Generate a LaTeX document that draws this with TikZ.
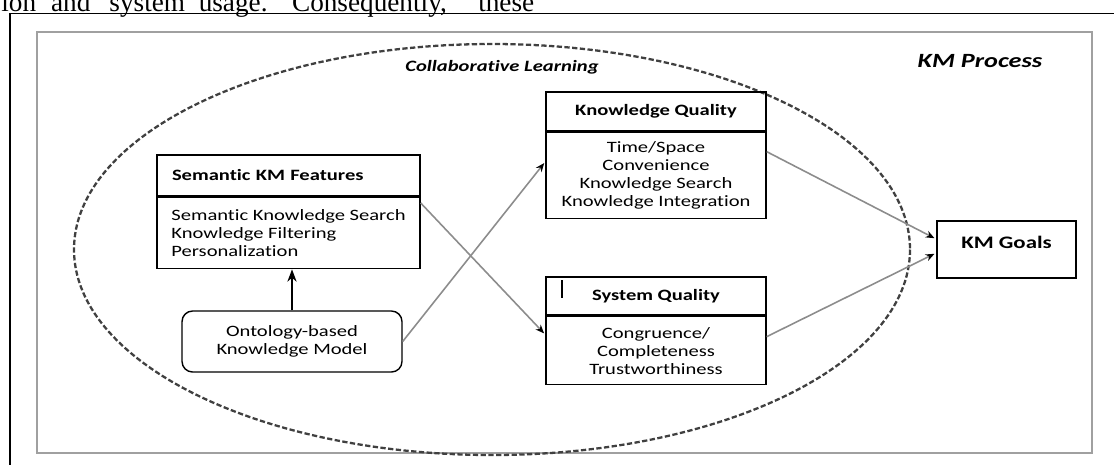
\documentclass[tikz,border=0pt]{standalone}
\usepackage{fontspec}
\setmainfont{Liberation Serif}
\newfontfamily\boxfont[FakeStretch=1.3, Ligatures={NoCommon}]{Carlito}
\usepackage{tikz}
\usetikzlibrary{arrows.meta, positioning}
\definecolor{linkgrey}{HTML}{8C8C8C}
\definecolor{framegrey}{HTML}{A0A0A0}

\begin{document}
\begin{tikzpicture}[x=0.02cm, y=-0.02cm, >=Stealth,
    font=\boxfont\fontsize{9}{10.3}\selectfont,
    headbox/.style={draw, line width=1.1pt, minimum height=0.77cm, inner sep=0pt},
    listbox/.style={draw, line width=0.8pt, inner sep=0pt},
    link/.style={linkgrey, line width=0.9pt, shorten >=1pt,
        -{Stealth[length=5pt, width=4pt, black]}},
    upper/.style={font=\boxfont\bfseries\fontsize{9}{10.3}\selectfont}]
    \useasboundingbox (0, 0) rectangle (1114, 464);
    \clip (0, 0) rectangle (1114, 464);

    % Page text and frames
    \node[anchor=base west, inner sep=0pt, font=\fontsize{15.5}{18}\selectfont] (paper) at (1, 11) {ion\hspace{0.55em}and\hspace{0.7em}system\hspace{0.5em}usage.\hspace{0.9em}Consequently,\hspace{1.15em}these};
    \draw[line width=1pt] (1120, 13.5) -- (10, 13.5) -- (10, 470);
    \draw[framegrey, line width=1.6pt] (37, 32) rectangle (1092, 453);

    % Collaborative learning boundary
    \draw[black!75, line width=1.3pt, dash pattern=on 3pt off 1.4pt] (492, 249.5) ellipse [x radius=418, y radius=205.5];
    \node[font=\boxfont\bfseries\itshape\fontsize{9}{10}\selectfont] (collab) at (502, 67) {Collaborative Learning};
    \node[font=\boxfont\bfseries\itshape\fontsize{11.5}{13}\selectfont] (process) at (980, 61) {KM Process};

    % Semantic KM features
    \node[headbox, upper, minimum width=5.26cm, minimum height=0.82cm, align=left, text width=4.66cm] (smh) at (288.5, 175.5) {Semantic KM Features};
    \node[listbox, below=0pt of smh, minimum width=5.26cm, minimum height=1.42cm, align=left] (smb) {Semantic Knowledge Search\\Knowledge Filtering\\Personalization};

    % Ontology
    \node[draw, line width=0.8pt, rounded corners=6pt, minimum width=4.4cm, minimum height=1.22cm, align=center] (onto) at (292, 341.5) {Ontology-based\\Knowledge Model};

    % Knowledge quality
    \node[headbox, upper, minimum width=4.4cm, minimum height=0.78cm] (kqh) at (656, 111.5) {Knowledge Quality};
    \node[listbox, below=0pt of kqh, minimum width=4.4cm, minimum height=1.72cm, align=center] (kqb) {Time/Space\\Convenience\\Knowledge Search\\Knowledge Integration};

    % System quality
    \node[headbox, upper, minimum width=4.4cm, minimum height=0.76cm] (sqh) at (656, 296) {System Quality};
    \draw[line width=0.8pt] ([xshift=0.34cm, yshift=-0.08cm]sqh.north west) -- ++(0, 18);
    \node[listbox, below=0pt of sqh, minimum width=4.4cm, minimum height=1.36cm, align=center] (sqb) {Congruence/\\Completeness\\Trustworthiness};

    % Goals
    \node[headbox, font=\boxfont\bfseries\fontsize{10}{12}\selectfont, minimum width=2.78cm, minimum height=1.14cm, text depth=0.3cm] (goals) at (1006.5, 249.5) {KM Goals};

    % Connectors
    \draw[->, line width=0.9pt] (onto.north) -- (onto.north |- smb.south);
    \draw[link] (onto.east) -- ([yshift=0.28cm]kqb.west);
    \draw[link] ([yshift=-0.12cm]smb.north east) -- ([yshift=0.32cm]sqb.west);
    \draw[link] ([yshift=0.48cm]kqb.east) -- ([yshift=0.21cm]goals.west);
    \draw[link] ([yshift=0.28cm]sqb.east) -- ([yshift=-0.07cm]goals.west);
\end{tikzpicture}
\end{document}
